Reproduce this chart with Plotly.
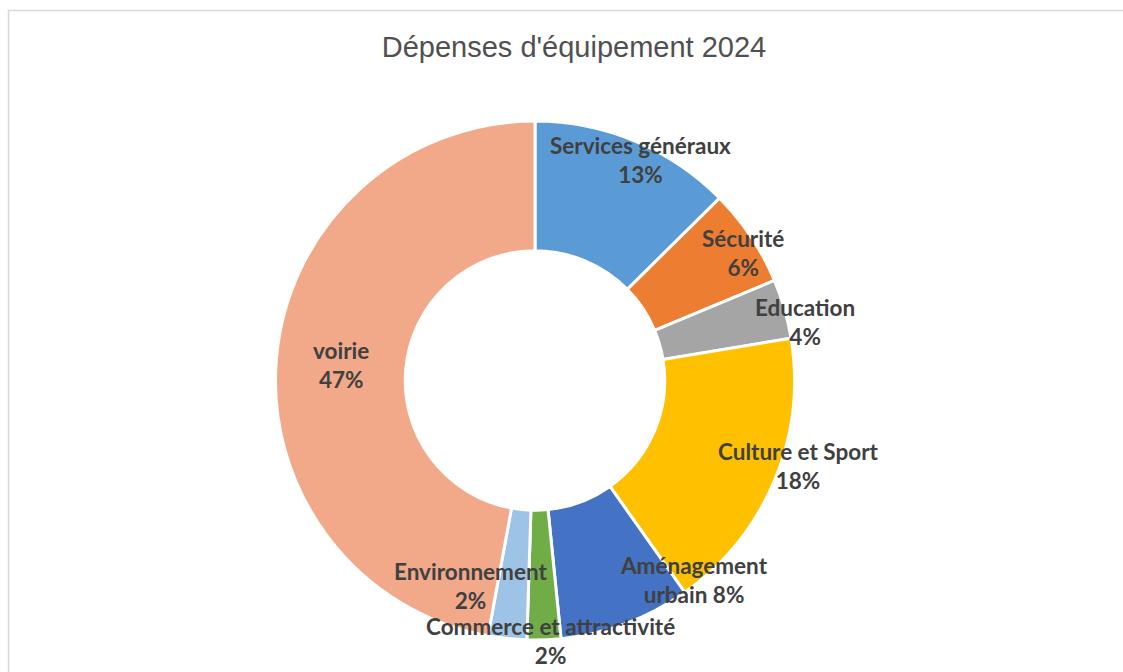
import plotly.graph_objects as go

# ---- data ----
categories = ["Services généraux", "Sécurité", "Education", "Culture et Sport",
              "Aménagement urbain", "Commerce et attractivité", "Environnement", "voirie"]
values = [12.6, 6.1, 3.7, 17.8, 8.2, 2.1, 2.4, 47.1]
colors = ["#5B9BD5", "#ED7D31", "#A5A5A5", "#FFC000",
          "#4472C4", "#70AD47", "#9DC3E6", "#F1A98A"]
title_text = "Dépenses d'équipement 2024"

# label display text (name lines) and positions (pixel centres, style only)
label_lines = ["Services généraux", "Sécurité", "Education", "Culture et Sport",
               "Aménagement<br>urbain", "Commerce et attractivité", "Environnement", "voirie"]
label_px = [(640, 160), (743, 253), (805, 322), (798, 466),
            (694, 580), (550, 641), (470, 586), (341, 365)]

W, H = 1123, 672
cx, cy, r = 535, 380.5, 259.5

total = sum(values)
pcts = [round(v / total * 100) for v in values]

fig = go.Figure()
fig.add_trace(go.Pie(
    labels=categories, values=values, sort=False, direction="clockwise", rotation=0,
    hole=0.5, marker=dict(colors=colors, line=dict(color="white", width=3)),
    textinfo="none", hoverinfo="label+percent", showlegend=False,
    domain=dict(x=[(cx - r) / W, (cx + r) / W], y=[(H - cy - r) / H, (H - cy + r) / H]),
))

annotations = []
for name, p, (px, py) in zip(label_lines, pcts, label_px):
    if "<br>" in name:
        txt = f"{name} {p}%"
    else:
        txt = f"{name}<br>{p}%"
    annotations.append(dict(
        x=px / W, y=1 - py / H, xref="paper", yref="paper", text=txt,
        showarrow=False, xanchor="center", yanchor="middle", align="center",
        font=dict(family="Lato", size=22.5, color="#404040", weight="bold"),
    ))

fig.update_layout(
    width=W, height=H, margin=dict(l=0, r=0, t=0, b=0),
    paper_bgcolor="white", plot_bgcolor="white",
    title=dict(text=title_text, x=574 / W, xanchor="center", y=1 - 47 / H, yanchor="middle",
               font=dict(family="Liberation Sans", size=29, color="#505050")),
    annotations=annotations,
    shapes=[dict(type="rect", xref="paper", yref="paper", x0=8.5 / W, x1=1.05,
                 y0=-0.05, y1=1 - 10.5 / H, line=dict(color="#D9D9D9", width=1.5),
                 fillcolor="rgba(0,0,0,0)", layer="below")],
)

fig.write_html("out.html")
